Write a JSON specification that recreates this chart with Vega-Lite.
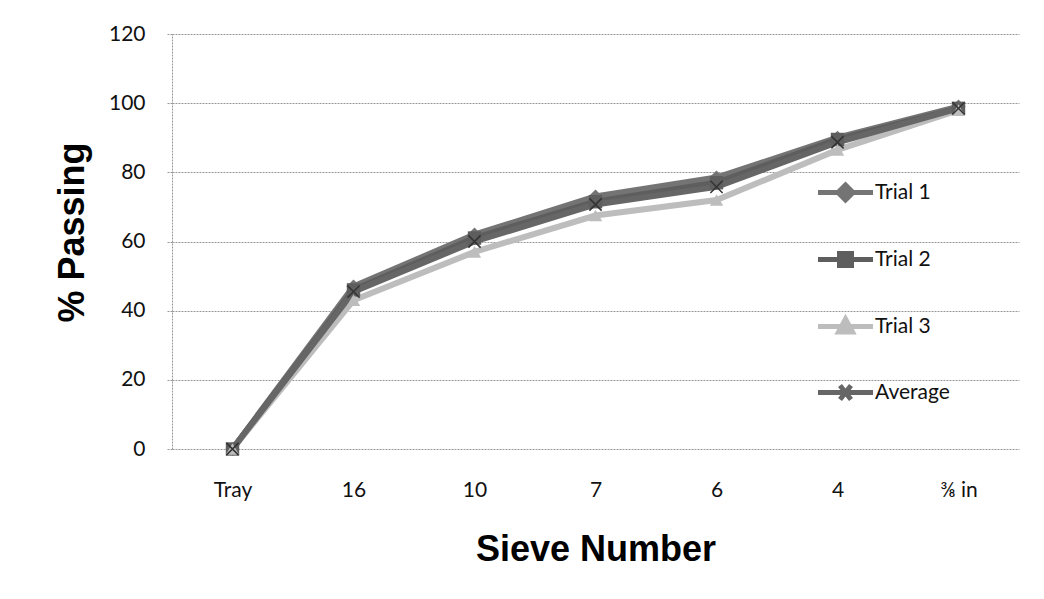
{
  "$schema": "https://vega.github.io/schema/vega-lite/v6.json",
  "autosize": {"type": "none"},
  "padding": {"left": 172, "top": 34, "right": 25, "bottom": 150},
  "width": 847,
  "height": 415,
  "background": "white",
  "config": {
    "view": {"stroke": null},
    "font": "Lato"
  },
  "data": {
    "values": [
      {"sieve": "Tray", "series": "Trial 1", "pct": 0},
      {"sieve": "16", "series": "Trial 1", "pct": 47},
      {"sieve": "10", "series": "Trial 1", "pct": 62},
      {"sieve": "7", "series": "Trial 1", "pct": 73},
      {"sieve": "6", "series": "Trial 1", "pct": 78.5},
      {"sieve": "4", "series": "Trial 1", "pct": 90},
      {"sieve": "⅜ in", "series": "Trial 1", "pct": 99},
      {"sieve": "Tray", "series": "Trial 2", "pct": 0},
      {"sieve": "16", "series": "Trial 2", "pct": 46},
      {"sieve": "10", "series": "Trial 2", "pct": 61},
      {"sieve": "7", "series": "Trial 2", "pct": 71.5},
      {"sieve": "6", "series": "Trial 2", "pct": 77},
      {"sieve": "4", "series": "Trial 2", "pct": 89.5},
      {"sieve": "⅜ in", "series": "Trial 2", "pct": 98.5},
      {"sieve": "Tray", "series": "Trial 3", "pct": 0},
      {"sieve": "16", "series": "Trial 3", "pct": 43},
      {"sieve": "10", "series": "Trial 3", "pct": 57},
      {"sieve": "7", "series": "Trial 3", "pct": 67.5},
      {"sieve": "6", "series": "Trial 3", "pct": 72},
      {"sieve": "4", "series": "Trial 3", "pct": 86.5},
      {"sieve": "⅜ in", "series": "Trial 3", "pct": 98},
      {"sieve": "Tray", "series": "Average", "pct": 0},
      {"sieve": "16", "series": "Average", "pct": 45.5},
      {"sieve": "10", "series": "Average", "pct": 60},
      {"sieve": "7", "series": "Average", "pct": 70.7},
      {"sieve": "6", "series": "Average", "pct": 75.8},
      {"sieve": "4", "series": "Average", "pct": 88.7},
      {"sieve": "⅜ in", "series": "Average", "pct": 98.5}
    ]
  },
  "encoding": {
    "x": {
      "field": "sieve", "type": "ordinal",
      "sort": ["Tray", "16", "10", "7", "6", "4", "⅜ in"],
      "scale": {"paddingInner": 0, "paddingOuter": 0},
      "axis": {
        "title": "Sieve Number",
        "titleFont": "Liberation Sans", "titleFontWeight": "bold", "titleFontSize": 36, "titleColor": "#000",
        "titleY": 111, "titleBaseline": "alphabetic",
        "labelAngle": 0, "labelFontSize": 21, "labelColor": "#111", "labelPadding": 30, "labelFont": "Lato",
        "ticks": false, "domain": false, "grid": false
      }
    },
    "y": {
      "field": "pct", "type": "quantitative",
      "scale": {"domain": [0, 120]},
      "axis": {
        "title": "% Passing",
        "titleFont": "Liberation Sans", "titleFontWeight": "bold", "titleFontSize": 36, "titleColor": "#000",
        "titleX": -89, "titleY": 198, "titleBaseline": "alphabetic", "titleAngle": -90, "titleAlign": "center",
        "values": [0, 20, 40, 60, 80, 100, 120],
        "labelFontSize": 21, "labelColor": "#111", "labelPadding": 21, "labelFont": "Lato",
        "ticks": true, "tickSize": 6, "tickColor": "#999", "tickDash": [2, 1],
        "domain": true, "domainColor": "#999", "domainDash": [2, 1],
        "grid": true, "gridColor": "#999", "gridDash": [2, 1], "gridWidth": 1
      }
    },
    "color": {
      "field": "series", "type": "nominal",
      "sort": ["Trial 1", "Trial 2", "Trial 3", "Average"],
      "scale": {"domain": ["Trial 1", "Trial 2", "Trial 3", "Average"], "range": ["#747474", "#5e5e5e", "#bdbdbd", "#666666"]},
      "legend": {
        "orient": "none", "legendX": 661, "legendY": 146,
        "title": null, "labelFontSize": 21, "labelColor": "#111", "labelFont": "Lato", "labelOffset": 17,
        "rowPadding": 33, "symbolSize": 400, "symbolStrokeWidth": 5, "symbolType": "circle",
        "encode": {
          "symbols": {
            "update": {
              "shape": {"signal": "datum.value === 'Trial 1' ? 'M-2.75,0L2.75,0M0,-0.75L0.75,0L0,0.75L-0.75,0Z' : datum.value === 'Trial 2' ? 'M-2.75,0L2.75,0M-0.6,-0.6L0.6,-0.6L0.6,0.6L-0.6,0.6Z' : datum.value === 'Trial 3' ? 'M-2.75,0L2.75,0M0,-0.75L0.7,0.55L-0.7,0.55Z' : 'M-2.75,0L2.75,0M-0.55,-0.7L0.55,0.7M-0.55,0.7L0.55,-0.7'"},
              "stroke": {"scale": "color", "field": "value"},
              "fill": {"scale": "color", "field": "value"},
              "strokeWidth": {"value": 5}
            }
          }
        }
      }
    }
  },
  "layer": [
    {"mark": {"type": "line", "strokeWidth": 6}},
    {"transform": [{"filter": "datum.series === 'Trial 1'"}], "mark": {"type": "point", "filled": true, "size": 200, "opacity": 1, "shape": "diamond"}},
    {"transform": [{"filter": "datum.series === 'Trial 2'"}], "mark": {"type": "point", "filled": true, "size": 180, "opacity": 1, "shape": "square"}},
    {"transform": [{"filter": "datum.series === 'Trial 3'"}], "mark": {"type": "point", "filled": true, "size": 180, "opacity": 1, "shape": "triangle-up"}},
    {"transform": [{"filter": "datum.series === 'Average'"}], "mark": {"type": "point", "filled": false, "size": 150, "opacity": 1, "shape": "M-1,-1L1,1M-1,1L1,-1", "strokeWidth": 1.5}, "encoding": {"color": {"value": "#333333"}}}
  ]
}
